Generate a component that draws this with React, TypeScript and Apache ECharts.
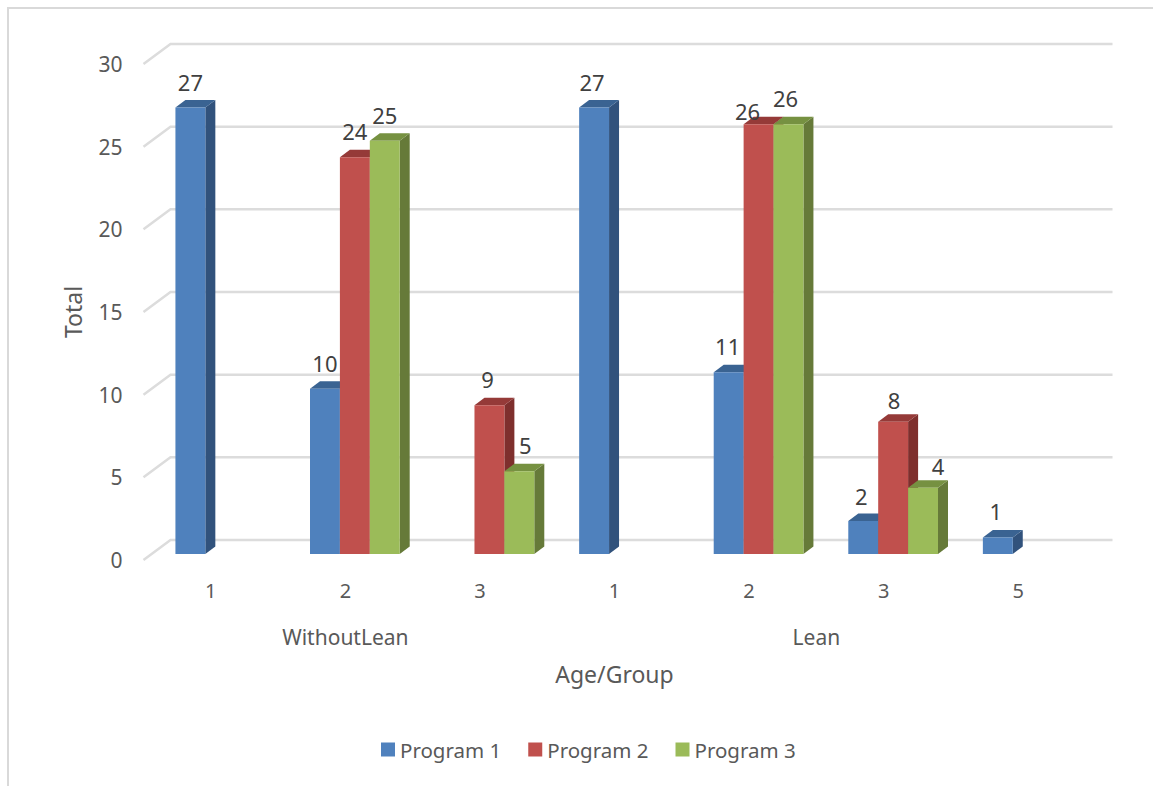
import React, { useEffect, useRef } from "react";
import * as echarts from "echarts";

// Age bands along the axis, split into the two study groups
const ages = ["1", "2", "3", "1", "2", "3", "5"];
const groupNames = ["WithoutLean", "Lean"];
const groupFirstIndex = [0, 3];
const groupLastIndex = [2, 6];

const program1 = [27, 10, null, 27, 11, 2, 1];
const program2 = [null, 24, 9, null, 26, 8, null];
const program3 = [null, 25, 5, null, 26, 4, null];

const yTicks = [0, 5, 10, 15, 20, 25, 30];

const FONT = '"Noto Sans"';
const AXIS_TEXT = "#595959";
const VALUE_TEXT = "#404040";

// Oblique projection of the floor and of each column
const WALL_DX = 27;
const WALL_DY = 20;
const FRONT_DX = 9.5;
const FRONT_DY = 6;
const BAR_DX = 10;
const BAR_DY = 7.5;
const BAR_SLOTS = 4.5; // three columns plus a 150% gap

// Hand-placed value labels that sit off-centre so neighbours do not collide: [dx, dy]
const labelNudges: Record<string, [number, number]> = {
  "0:3": [-2, 0],
  "0:4": [-1, 0],
  "0:5": [-2, 1],
  "0:6": [-2, 0],
  "1:2": [-2, 0],
  "1:4": [-11, 13],
  "1:5": [1, 4],
  "2:2": [6, 0],
  "2:4": [-3, 0],
  "2:5": [15, 4],
};

const makeBarRenderer =
  (seriesIndex: number, front: string, side: string, top: string) =>
  (params: any, api: any) => {
    const value = api.value(1);
    if (value == null || Number.isNaN(value)) return null;
    const cat = api.value(0);
    const base = api.coord([cat, 0]);
    const head = api.coord([cat, value]);
    const band = api.size([1, 0])[0];
    const w = band / BAR_SLOTS;
    const x0 = base[0] + FRONT_DX - 1.5 * w + seriesIndex * w;
    const x1 = x0 + w;
    const yb = base[1] - FRONT_DY;
    const yt = head[1] - FRONT_DY;
    const nudge = labelNudges[`${seriesIndex}:${cat}`] || [0, 0];
    return {
      type: "group",
      children: [
        {
          type: "polygon",
          shape: { points: [[x1, yb], [x1 + BAR_DX, yb - BAR_DY], [x1 + BAR_DX, yt - BAR_DY], [x1, yt]] },
          style: { fill: side },
        },
        {
          type: "polygon",
          shape: { points: [[x0, yt], [x0 + BAR_DX, yt - BAR_DY], [x1 + BAR_DX, yt - BAR_DY], [x1, yt]] },
          style: { fill: top },
        },
        {
          type: "rect",
          shape: { x: x0, y: yt, width: w, height: yb - yt },
          style: { fill: front },
        },
        {
          type: "text",
          z2: 100,
          x: (x0 + x1) / 2 + nudge[0],
          y: yt - 26 + nudge[1],
          style: {
            text: String(value),
            fill: VALUE_TEXT,
            font: `22px ${FONT}`,
            textAlign: "center",
            textVerticalAlign: "middle",
          },
        },
      ],
    };
  };

const renderGridLine = (params: any, api: any) => {
  const y = api.coord([0, api.value(1)])[1];
  const sys = params.coordSys;
  return {
    type: "polyline",
    shape: {
      points: [
        [sys.x, y],
        [sys.x + WALL_DX, y - WALL_DY],
        [sys.x + sys.width + WALL_DX, y - WALL_DY],
      ],
    },
    style: { stroke: "#dcdcdc", lineWidth: 2.5, fill: "none" },
  };
};

const renderGroupName = (params: any, api: any) => {
  const i = params.dataIndex;
  const a = api.coord([groupFirstIndex[i], 0]);
  const b = api.coord([groupLastIndex[i], 0]);
  return {
    type: "text",
    x: (a[0] + b[0]) / 2,
    y: a[1] + 77,
    style: {
      text: groupNames[i],
      fill: AXIS_TEXT,
      font: `21px ${FONT}`,
      textAlign: "center",
      textVerticalAlign: "middle",
    },
  };
};

const toPoints = (values: (number | null)[]) => values.map((v, i) => [i, v]);

export default function App() {
  const ref = useRef<HTMLDivElement>(null);

  useEffect(() => {
    const chart = echarts.init(ref.current!, undefined, { renderer: "svg" });
    chart.setOption({
      animation: false,
      backgroundColor: "#ffffff",
      textStyle: { fontFamily: FONT },
      graphic: [
        {
          type: "polyline",
          shape: { points: [[8, 786], [8, 8], [1153, 8]] },
          style: { stroke: "#d9d9d9", lineWidth: 2, fill: "none" },
          silent: true,
        },
      ],
      grid: { left: 143.5, top: 64, width: 942, height: 496 },
      xAxis: {
        type: "category",
        data: ages,
        axisLine: { show: false },
        axisTick: { show: false },
        axisLabel: { color: AXIS_TEXT, fontSize: 20, fontFamily: FONT, margin: 20 },
        name: "Age/Group",
        nameLocation: "middle",
        nameGap: 102,
        nameTextStyle: { color: AXIS_TEXT, fontSize: 23, fontFamily: FONT },
      },
      yAxis: {
        type: "value",
        min: 0,
        max: 30,
        interval: 5,
        axisLine: { show: false },
        axisTick: { show: false },
        splitLine: { show: false },
        axisLabel: { color: AXIS_TEXT, fontSize: 21, fontFamily: FONT, margin: 21 },
        name: "Total",
        nameLocation: "middle",
        nameGap: 59,
        nameTextStyle: { color: AXIS_TEXT, fontSize: 23, fontFamily: FONT },
      },
      legend: {
        left: 376,
        top: 734,
        itemWidth: 14,
        itemHeight: 14,
        itemGap: 27,
        icon: "rect",
        data: ["Program 1", "Program 2", "Program 3"],
        textStyle: { color: AXIS_TEXT, fontSize: 20.5, fontFamily: FONT },
      },
      series: [
        {
          type: "custom",
          name: "Gridlines",
          silent: true,
          z: 1,
          data: yTicks.map((v) => [0, v]),
          encode: { x: 0, y: 1 },
          renderItem: renderGridLine,
        },
        {
          type: "custom",
          name: "Groups",
          silent: true,
          z: 1,
          data: groupNames.map((_, i) => [groupFirstIndex[i], 0]),
          encode: { x: 0, y: 1 },
          renderItem: renderGroupName,
        },
        {
          type: "custom",
          name: "Program 1",
          z: 2,
          itemStyle: { color: "#4f81bd" },
          data: toPoints(program1),
          encode: { x: 0, y: 1 },
          renderItem: makeBarRenderer(0, "#4f81bd", "#31527c", "#3a6392"),
        },
        {
          type: "custom",
          name: "Program 2",
          z: 3,
          itemStyle: { color: "#c0504d" },
          data: toPoints(program2),
          encode: { x: 0, y: 1 },
          renderItem: makeBarRenderer(1, "#c0504d", "#7e2f2d", "#953a38"),
        },
        {
          type: "custom",
          name: "Program 3",
          z: 4,
          itemStyle: { color: "#9bbb59" },
          data: toPoints(program3),
          encode: { x: 0, y: 1 },
          renderItem: makeBarRenderer(2, "#9bbb59", "#667a39", "#769141"),
        },
      ],
    });
    return () => chart.dispose();
  }, []);

  return (
    <div
      ref={ref}
      style={{ position: "absolute", left: 0, top: 0, width: 1153, height: 786 }}
    />
  );
}
